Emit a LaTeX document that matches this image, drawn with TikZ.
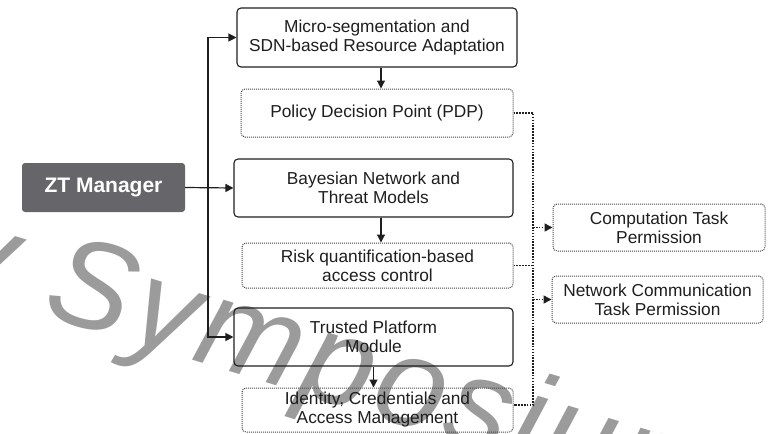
\documentclass[tikz,border=0pt]{standalone}
\usepackage{fontspec}
\setmainfont{Liberation Sans}
\usetikzlibrary{arrows.meta,calc}

\definecolor{ink}{RGB}{30,30,30}
\definecolor{mgrfill}{RGB}{102,102,106}
\definecolor{dotgray}{RGB}{70,70,70}
\definecolor{wmgray}{RGB}{155,155,155}

\begin{document}
\begin{tikzpicture}[x=1pt,y=-1pt,
  boxfont/.style={font=\fontsize{17.3}{19}\selectfont, text=ink, align=center, inner sep=0pt},
  solidbox/.style={boxfont, draw=ink, line width=1.1pt, rounded corners=4pt},
  dotbox/.style={boxfont, draw=dotgray, line width=1pt, dash pattern=on 1pt off 1pt, rounded corners=4pt},
  mgrbox/.style={fill=mgrfill, rounded corners=3pt, inner sep=0pt, text=white,
    font=\fontsize{21}{24}\selectfont\bfseries},
  link/.style={draw=ink, line width=1.2pt},
  tip/.style={-{Triangle[length=8pt,width=8pt]}},
  bothtips/.style={{Triangle[length=8pt,width=8pt]}-{Triangle[length=8pt,width=8pt]}},
  dotlink/.style={draw=ink, line width=1.6pt, dash pattern=on 1.6pt off 1.3pt},
  wmark/.style={font=\fontsize{126}{126}\selectfont\itshape\addfontfeatures{LetterSpace=4},
    text=wmgray, inner sep=0pt}
]
\useasboundingbox (0,0) rectangle (769,434);
\clip (0,0) rectangle (769,434);

% watermark behind the diagram
\node[wmark, rotate=-17, anchor=base west] (wm) at (40,314) {\llap{Security }Symposium};

% left manager block
\node[mgrbox, minimum width=163pt, minimum height=49pt] (zt) at (103.5,187.5) {ZT Manager};

% central column
\node[solidbox, minimum width=280pt, minimum height=59pt] (seg) at (377,37.5)
  {Micro-segmentation and\\SDN-based Resource Adaptation};
\node[dotbox, minimum width=272pt, minimum height=48pt] (pdp) at (377,113)
  {Policy Decision Point (PDP)};
\node[solidbox, minimum width=279pt, minimum height=58pt] (bn) at (373.5,188)
  {Bayesian Network and\\Threat Models};
\node[dotbox, minimum width=271pt, minimum height=45pt] (risk) at (377.5,265.5)
  {Risk quantification-based\\access control};
\node[solidbox, minimum width=279pt, minimum height=58pt] (tpm) at (373.5,337)
  {Trusted Platform\\Module};
\node[dotbox, minimum width=271pt, minimum height=44pt] (icam) at (377.5,410)
  {Identity, Credentials and\\Access Management};

% permission targets
\node[dotbox, minimum width=212pt, minimum height=47pt] (cmp) at (659,227.5)
  {Computation Task\\Permission};
\node[dotbox, minimum width=211pt, minimum height=47pt] (net) at (657.5,299.5)
  {Network Communication\\Task Permission};

% trunk from the manager
\coordinate (trunk) at (208,0);
\draw[link,tip] (zt.east) -- (bn.west);
\draw[link,bothtips] (seg.west) -- (seg.west -| trunk) -- (tpm.west -| trunk) -- (tpm.west);

% column arrows
\draw[link,tip] ([xshift=4pt]seg.south) -- ([xshift=4pt]seg.south |- pdp.north);
\draw[link,tip] ([xshift=7.5pt]bn.south) -- ([xshift=7.5pt]bn.south |- risk.north);
\draw[link,tip] (tpm.south) -- (tpm.south |- icam.north);

% dotted decision bus
\coordinate (bus) at (533,0);
\draw[dotlink] (pdp.east) -- (pdp.east -| bus) -- ([yshift=5pt]icam.east -| bus) -- ([yshift=5pt]icam.east);
\draw[dotlink] (risk.east) -- (risk.east -| bus);
\draw[dotlink,tip] (cmp.west -| bus) -- (cmp.west);
\draw[dotlink,tip] (net.west -| bus) -- (net.west);
\end{tikzpicture}
\end{document}
